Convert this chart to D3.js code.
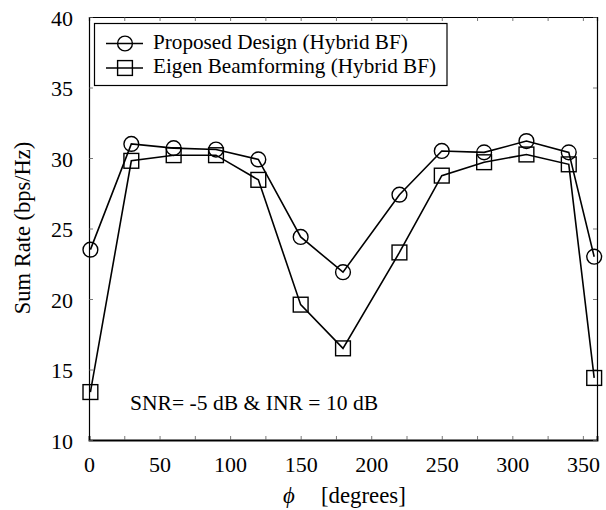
<!DOCTYPE html>
<html><head><meta charset="utf-8">
<script src="https://cdn.jsdelivr.net/npm/d3@7"></script>
<style>body{margin:0;background:#fff}svg{display:block}text{font-family:'Liberation Serif','Times New Roman',Times,'DejaVu Serif',serif;fill:#000}</style>
</head><body>
<svg id="c" width="606" height="510"></svg>
<script>
const angles = [1, 30, 60, 90, 120, 150, 180, 220, 250, 280, 310, 340, 358];
const proposed = [23.5, 31.0, 30.7, 30.6, 29.9, 24.4, 21.9, 27.4, 30.5, 30.4, 31.2, 30.4, 23.0];
const eigen = [13.4, 29.8, 30.2, 30.2, 28.45, 19.6, 16.5, 23.3, 28.75, 29.7, 30.25, 29.55, 14.4];
const seriesNames = ["Proposed Design (Hybrid BF)", "Eigen Beamforming (Hybrid BF)"];
const xTickLabels = [0, 50, 100, 150, 200, 250, 300, 350];
const yTickLabels = [10, 15, 20, 25, 30, 35, 40];

const FONT = "'Liberation Serif','Times New Roman',Times,'DejaVu Serif',serif";
const svg = d3.select("#c");
const L = 89, R = 597, T = 17, B = 440;
const x = d3.scaleLinear().domain([0, 360]).range([L, R]);
const y = d3.scaleLinear().domain([10, 40]).range([B, T]);

const xb = svg.append("g").attr("transform", `translate(0,${B})`)
  .call(d3.axisBottom(x).tickValues(d3.range(0, 360, 25)).tickSize(-4)
    .tickFormat(d => xTickLabels.includes(d) ? d : ""));
const xt = svg.append("g").attr("transform", `translate(0,${T})`)
  .call(d3.axisTop(x).tickValues(d3.range(0, 360, 25)).tickSize(-4).tickFormat(""));
const yl = svg.append("g").attr("transform", `translate(${L},0)`)
  .call(d3.axisLeft(y).tickValues(yTickLabels).tickSize(-4).tickPadding(16));
const yr = svg.append("g").attr("transform", `translate(${R},0)`)
  .call(d3.axisRight(y).tickValues(yTickLabels).tickSize(-4).tickFormat(""));
[xb, xt, yl, yr].forEach(g => {
  g.attr("font-family", FONT).attr("font-size", 22);
  g.select(".domain").attr("stroke", "#000").attr("stroke-width", 1.2);
  g.selectAll(".tick line").attr("stroke", "#555").attr("stroke-width", 0.8);
  g.selectAll("text").attr("fill", "#000");
});
xb.select(".domain").attr("stroke-width", 1.8);
yl.selectAll("text").attr("dy", "0.38em");
xb.selectAll("text").attr("y", 32).attr("dy", 0);

const line = d3.line().x((d, i) => x(angles[i])).y(d => y(d));
svg.append("path").datum(proposed).attr("d", line).attr("fill", "none").attr("stroke", "#000").attr("stroke-width", 1.6);
svg.append("path").datum(eigen).attr("d", line).attr("fill", "none").attr("stroke", "#000").attr("stroke-width", 1.6);

svg.append("g").selectAll("circle").data(proposed).join("circle")
  .attr("cx", (d, i) => x(angles[i])).attr("cy", d => y(d)).attr("r", 7.4)
  .attr("fill", "none").attr("stroke", "#000").attr("stroke-width", 1.4);
const s = 14.8;
svg.append("g").selectAll("rect").data(eigen).join("rect")
  .attr("x", (d, i) => x(angles[i]) - s / 2).attr("y", d => y(d) - s / 2)
  .attr("width", s).attr("height", s)
  .attr("fill", "none").attr("stroke", "#000").attr("stroke-width", 1.4);

const lg = svg.append("g");
lg.append("rect").attr("x", 94.5).attr("y", 23.5).attr("width", 352.5).attr("height", 62)
  .attr("fill", "#fff").attr("stroke", "#000").attr("stroke-width", 1.2);
const rows = [43.5, 68];
rows.forEach((ry, i) => {
  lg.append("line").attr("x1", 106).attr("x2", 143).attr("y1", ry).attr("y2", ry).attr("stroke", "#000").attr("stroke-width", 1.4);
  if (i === 0) lg.append("circle").attr("cx", 125).attr("cy", ry).attr("r", 7.4).attr("fill", "none").attr("stroke", "#000").attr("stroke-width", 1.4);
  else lg.append("rect").attr("x", 125 - s / 2).attr("y", ry - s / 2).attr("width", s).attr("height", s).attr("fill", "none").attr("stroke", "#000").attr("stroke-width", 1.4);
  lg.append("text").attr("x", 153).attr("y", ry + 5.2).attr("font-family", FONT).attr("font-size", 21.2).text(seriesNames[i]);
});

svg.append("text").attr("transform", "translate(30,228) rotate(-90)").attr("text-anchor", "middle")
  .attr("font-family", FONT).attr("font-size", 22.5).text("Sum Rate (bps/Hz)");
const xl = svg.append("text").attr("x", 283).attr("y", 503).attr("font-family", FONT).attr("font-size", 22.8);
xl.append("tspan").style("font-style", "italic").text("ϕ");
xl.append("tspan").attr("x", 321).text("[degrees]");
svg.append("text").attr("x", 130).attr("y", 410).attr("font-family", FONT).attr("font-size", 21.6).text("SNR= -5 dB & INR = 10 dB");
</script>
</body></html>
